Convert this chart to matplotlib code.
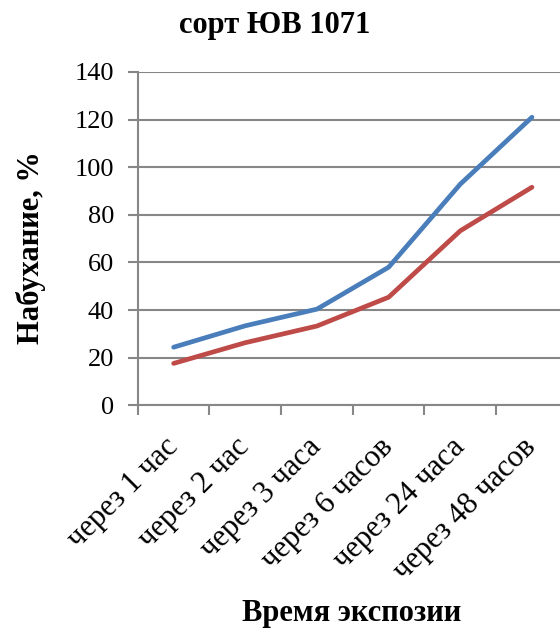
import matplotlib
matplotlib.use("Agg")
import matplotlib.pyplot as plt
import numpy as np

categories = ["через 1 час", "через 2 час", "через 3 часа",
              "через 6 часов", "через 24 часа", "через 48 часов"]
series_blue = [24.4, 33.4, 40.4, 58.0, 92.9, 121.0]
series_red = [17.6, 26.3, 33.3, 45.4, 73.3, 91.6]
y_ticks = [0, 20, 40, 60, 80, 100, 120, 140]

plt.rcParams["font.family"] = ["Liberation Serif", "DejaVu Serif"]

fig = plt.figure(figsize=(5.6, 6.32), dpi=100)
W, H = 560, 632
left, right, top, bottom = 137.8, 567.8, 72.0, 405.3
ax = fig.add_axes([left / W, 1 - bottom / H, (right - left) / W, (bottom - top) / H])

x = np.arange(len(categories)) + 0.5
grid_col = "#878787"
ax.set_xlim(0, len(categories))
ax.set_ylim(0, 140)
ax.set_yticks(y_ticks)
ax.yaxis.grid(True, color=grid_col, linewidth=1.5)
ax.set_axisbelow(True)

ax.plot(x, series_blue, color="#4A7EBB", linewidth=3.4, solid_capstyle="round", zorder=3)
ax.plot(x, series_red, color="#BE4B48", linewidth=3.4, solid_capstyle="round", zorder=3)

for s in ["top", "right"]:
    ax.spines[s].set_visible(False)
for s in ["left", "bottom"]:
    ax.spines[s].set_color(grid_col)
    ax.spines[s].set_linewidth(1.5)

# category boundary ticks on x, labels centered in each category
ax.set_xticks(np.arange(len(categories) + 1))
ax.set_xticklabels([])
ax.set_xticks(x, minor=True)
ax.set_xticklabels(categories, minor=True, rotation=45, ha="right",
                   va="center", rotation_mode="anchor", fontsize=22)
ax.tick_params(axis="x", which="minor", length=0, pad=27)
ax.tick_params(axis="x", which="major", length=7.2, width=1.5, color=grid_col)
ax.tick_params(axis="y", length=7.2, width=1.5, color=grid_col, labelsize=19, pad=10)

fig.text(275 / W, 1 - 26 / H, "сорт ЮВ 1071", ha="center", va="center",
         fontsize=22, fontweight="bold")
fig.text(31 / W, 1 - 248 / H, "Набухание, %", ha="center", va="center",
         rotation=90, fontsize=22, fontweight="bold")
fig.text(352 / W, 1 - 614 / H, "Время экспозии", ha="center", va="center",
         fontsize=22, fontweight="bold")

fig.savefig("out.png", dpi=100)
